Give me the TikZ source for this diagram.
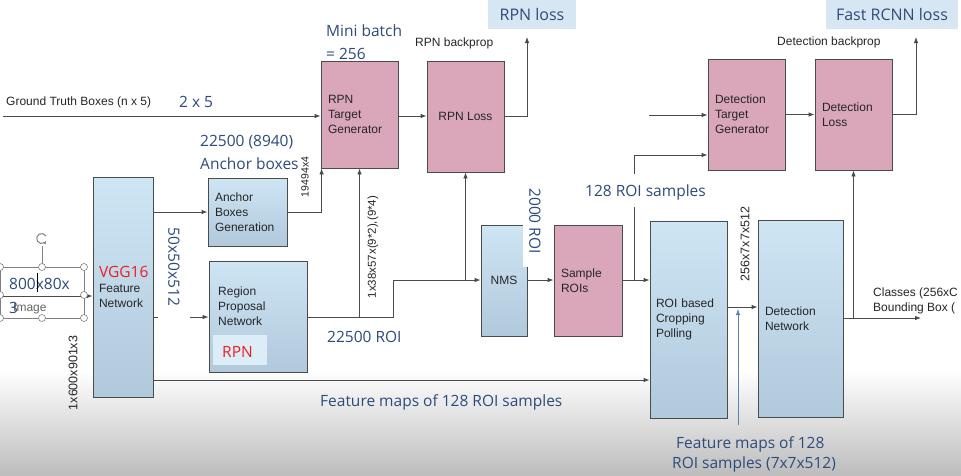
\documentclass[tikz,border=0pt]{standalone}
\usepackage{fontspec}
\setmainfont{Liberation Sans}
\newfontfamily\osans{Open Sans}
\usetikzlibrary{arrows.meta,calc}
\definecolor{lblblue}{RGB}{45,75,125}
\definecolor{boxpink}{RGB}{218,166,186}
\definecolor{boxtop}{RGB}{206,229,244}
\definecolor{boxbot}{RGB}{176,201,219}
\definecolor{hdrblue}{RGB}{214,230,242}
\definecolor{vred}{RGB}{235,30,35}
\definecolor{lgray}{RGB}{75,75,75}
\definecolor{thinblue}{RGB}{90,130,190}
\tikzset{
  box/.style={draw=lgray, line width=0.8pt, inner xsep=7pt, inner ysep=0pt, align=left,
    font=\fontsize{12}{15}\selectfont, text=black!85},
  bluebox/.style={box, top color=boxtop, bottom color=boxbot},
  pinkbox/.style={box, fill=boxpink},
  arr/.style={draw=lgray, line width=0.8pt, -{Latex[length=6pt,width=4.5pt]}},
  ln/.style={draw=lgray, line width=0.8pt},
  lbl/.style={font=\osans\fontsize{15.5}{23}\selectfont, text=lblblue, inner sep=0pt, align=left},
  blk/.style={font=\fontsize{12}{15}\selectfont, text=black!85, inner sep=0pt},
  rot/.style={font=\fontsize{11}{12}\selectfont, text=black!85, inner sep=0pt},
  hdr/.style={fill=hdrblue, font=\osans\fontsize{16}{18}\selectfont, text=lblblue, inner sep=0pt},
  handle/.style={circle, draw=gray, fill=white, line width=0.6pt, minimum size=7pt, inner sep=0pt},
}
\begin{document}
\begin{tikzpicture}[x=1pt,y=-1pt]
\useasboundingbox (0,0) rectangle (961,475);
\fill[white] (0,0) rectangle (961,475);
\shade[top color=white, bottom color=black!26] (0,370) rectangle (961,475);

% header boxes
\node[hdr, minimum width=88pt, minimum height=29pt] (hrpn) at (532,14.5) {RPN loss};
\node[hdr, minimum width=132pt, minimum height=29pt] (hfast) at (892,14.5) {Fast RCNN loss};

% main boxes
\node[bluebox, minimum width=60pt, minimum height=220pt, text width=48pt, inner xsep=6pt] (vgg) at (123,287)
  {{\osans\fontsize{15.5}{18}\selectfont\color{vred}VGG16}\\Feature\\Network};
\node[bluebox, minimum width=79pt, minimum height=68pt, text width=65pt] (anc) at (247.5,212)
  {Anchor\\Boxes\\Generation};
\node[bluebox, minimum width=98pt, minimum height=111pt] (rpn) at (258,316.5) {};
\node[blk, anchor=north west, align=left, font=\fontsize{12}{15}\selectfont] (rpntext) at (218,287) {Region\\Proposal\\Network};
\node[fill=boxtop!70!white, minimum width=54pt, minimum height=30pt, inner sep=0pt] (rpnbg) at (240,350) {};
\node[font=\osans\fontsize{15.5}{18}\selectfont, text=vred, inner sep=0pt, anchor=base west] (rpnred) at (222,357) {RPN};
\node[pinkbox, minimum width=77pt, minimum height=107pt, text width=63pt] (rtg) at (359.5,114.5)
  {RPN\\Target\\Generator};
\node[pinkbox, minimum width=77pt, minimum height=111pt, align=center] (rloss) at (465.5,116.5) {RPN Loss};
\node[bluebox, minimum width=46pt, minimum height=111pt, inner xsep=0pt, align=center] (nms) at (504,280.5) {NMS};
\node[pinkbox, minimum width=68pt, minimum height=111pt, text width=54pt] (sroi) at (588,280.5) {Sample\\ROIs};
\node[pinkbox, minimum width=77pt, minimum height=111pt, text width=63pt] (dtg) at (746.5,114.5)
  {Detection\\Target\\Generator};
\node[pinkbox, minimum width=77pt, minimum height=111pt, text width=63pt] (dloss) at (853.5,114.5)
  {Detection\\Loss};
\node[bluebox, minimum width=77pt, minimum height=197pt, text width=65pt, inner xsep=6pt] (roi) at (688.5,319.5)
  {ROI based\\Cropping\\Polling};
\node[bluebox, minimum width=85pt, minimum height=197pt, text width=71pt] (det) at (800.5,318.5)
  {Detection\\Network};

% coordinates
\coordinate (gt) at (3,116);
\coordinate (rtop) at (527,37);
\coordinate (ftop) at (916,37);
\coordinate (j1) at (393,280);
\coordinate (j2) at (634,155);
\coordinate (f1) at (153,380);
\coordinate (gt2) at (649,115);
\coordinate (bl) at (738,425);
\coordinate (out) at (921,318);
\coordinate (im) at (0,296);

% connectors
\draw[arr] (gt) -- (gt -| rtg.west);
\draw[arr] (rtg.east |- 0,116) -- (rloss.west |- 0,116);
\draw[arr] (rloss.east) -| (rtop);
\draw[arr] (vgg.east |- anc.west) -- (anc.west);
\draw[arr] (anc.east) -| ([xshift=1pt]rtg.south west);
\draw[arr] (vgg.east |- 0,317) -- (rpn.west |- 0,317);
\draw[arr] (rpn.east |- 0,317) -| (j1) -- (nms.west |- j1);
\draw[arr] (rtg.south |- 0,317) -- (rtg.south);
\draw[arr] (rloss.south |- j1) -- (rloss.south);
\draw[arr] (nms.east |- j1) -- (sroi.west |- j1);
\draw[arr] (sroi.east |- j1) -| (j2) -- (j2 -| dtg.west);
\draw[arr] (sroi.east |- j1) -- (roi.west |- j1);
\draw[arr] (f1) -- (f1 -| roi.west);
\draw[arr] (gt2) -- (gt2 -| dtg.west);
\draw[arr] (dtg.east) -- (dloss.west);
\draw[arr] (dloss.east) -| (ftop);
\draw[arr] (roi.east |- 0,307) -- (det.west |- 0,307);
\draw[thinblue, line width=0.8pt, -{Latex[length=6pt,width=4.5pt]}] (bl) -- (bl |- 0,309);
\draw[arr] (det.east |- out) -- (out);
\draw[arr] (dloss.south |- out) -- (dloss.south);
\draw[arr] (im) -- (im -| vgg.west);

% labels
\node[blk, anchor=base west] (gtl) at (6,105) {Ground Truth Boxes (n x 5)};
\node[lbl, anchor=base west] (two) at (179,107) {2 x 5};
\node[lbl, anchor=north west] (mini) at (326,25) {Mini batch\\= 256};
\node[blk, anchor=base west] (rbp) at (415,46) {RPN backprop};
\node[blk, anchor=base west] (dbp) at (777,45) {Detection backprop};
\node[lbl, anchor=north west] (ancl) at (200,135) {22500 (8940)\\Anchor boxes};
\node[rot, rotate=90, font=\fontsize{10.5}{12}\selectfont] (r1) at (305,177) {19494x4};
\node[lbl, rotate=-90, fill=white, minimum width=104pt, minimum height=32pt] (r2) at (174,267) {50x50x512};
\node[rot, rotate=90, font=\fontsize{11.5}{12}\selectfont] (r3) at (373,247) {1x38x57x(9*2),(9*4)};
\node[lbl, rotate=-90, fill=white, minimum width=92pt, minimum height=24pt] (r4) at (535,221) {2000 ROI};
\node[rot, rotate=90, font=\fontsize{12.5}{13}\selectfont] (r5) at (745,244) {256x7x7x512};
\node[rot, rotate=90, font=\fontsize{12.5}{13}\selectfont] (r6) at (73,373) {1x600x901x3};
\node[lbl, anchor=base west] (roi22) at (327,342) {22500 ROI};
\node[lbl, anchor=base west] (fm1) at (320,406) {Feature maps of 128 ROI samples};
\node[lbl, fill=white, minimum width=130pt, minimum height=33pt] (s128bg) at (647,190) {};
\node[lbl, anchor=base west] (s128) at (585,196) {128 ROI samples};
\node[lbl, anchor=base west] (fm2a) at (676,448) {Feature maps of 128};
\node[lbl, anchor=base west] (fm2b) at (672,468) {ROI samples (7x7x512)};
\node[blk, anchor=base west] (cls) at (873,296) {Classes (256xC};
\node[blk, anchor=base west] (bbx) at (873,311) {Bounding Box (};

% image text box selection
\draw[gray, line width=0.5pt] (0,267) rectangle (84,318);
\draw[gray, line width=0.5pt] (42,246) -- (42,267);
\draw[gray, line width=1pt, -{Latex[length=3pt,width=3pt]}] (46,236) arc[start angle=30, end angle=330, radius=5pt];
\foreach \p/\q [count=\i] in {0/267,42/267,84/267,0/295,84/295,0/318,42/318,84/318}
  \node[handle] (h\i) at (\p,\q) {};
\node[lbl, anchor=base west] (img1) at (9,289) {800x80x};
\draw[black, line width=0.6pt] (37,273) -- (37,292);
\node[blk, anchor=base west, text=gray!80!black] (img2) at (13,311) {Image};
\node[lbl, anchor=base west] (img3) at (9,313) {3};
\end{tikzpicture}
\end{document}
